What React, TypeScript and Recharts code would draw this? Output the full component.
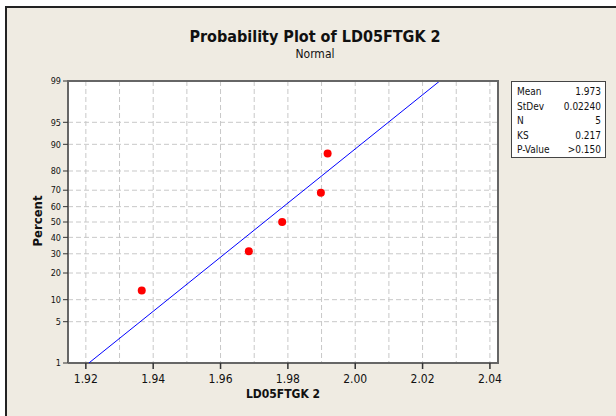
import { CartesianGrid, ComposedChart, Scatter, XAxis, YAxis } from 'recharts'

// observed values of LD05FTGK 2 and their median-rank percents
const VALUES = [1.9366, 1.9684, 1.9783, 1.9898, 1.9918]
const PERCENTS = [12.96, 31.48, 50, 68.52, 87.04]

// fitted normal line end points (mean 1.973, stdev 0.0224)
const FIT_VALUES = [1.9209, 2.0251]
const FIT_PERCENTS = [1, 99]

const Y_TICK_PERCENTS = [1, 5, 10, 20, 30, 40, 50, 60, 70, 80, 90, 95, 99]
const X_GRID = [1.92, 1.93, 1.94, 1.95, 1.96, 1.97, 1.98, 1.99, 2.0, 2.01, 2.02, 2.03, 2.04]
const X_LABELS = ['1.92', '1.94', '1.96', '1.98', '2.00', '2.02', '2.04']

const STATS = [
  ['Mean', '1.973'],
  ['StDev', '0.02240'],
  ['N', '5'],
  ['KS', '0.217'],
  ['P-Value', '>0.150'],
]

const FONT = '"DejaVu Sans Condensed", "DejaVu Sans", sans-serif'

// inverse standard normal cdf (Acklam), used as the probability-scale transform
function probit(p: number) {
  const a = [-39.6968302866538, 220.946098424521, -275.928510446969, 138.357751867269, -30.6647980661472, 2.50662827745924]
  const b = [-54.4760987982241, 161.585836858041, -155.698979859887, 66.8013118877197, -13.2806815528857]
  const c = [-0.00778489400243029, -0.322396458041136, -2.40075827716184, -2.54973253934373, 4.37466414146497, 2.93816398269878]
  const d = [0.00778469570904146, 0.32246712907004, 2.445134137143, 3.75440866190742]
  const pl = 0.02425
  if (p < pl) {
    const q = Math.sqrt(-2 * Math.log(p))
    return (((((c[0] * q + c[1]) * q + c[2]) * q + c[3]) * q + c[4]) * q + c[5]) / ((((d[0] * q + d[1]) * q + d[2]) * q + d[3]) * q + 1)
  }
  if (p > 1 - pl) {
    const q = Math.sqrt(-2 * Math.log(1 - p))
    return -(((((c[0] * q + c[1]) * q + c[2]) * q + c[3]) * q + c[4]) * q + c[5]) / ((((d[0] * q + d[1]) * q + d[2]) * q + d[3]) * q + 1)
  }
  const q = p - 0.5
  const r = q * q
  return ((((((a[0] * r + a[1]) * r + a[2]) * r + a[3]) * r + a[4]) * r + a[5]) * q) / (((((b[0] * r + b[1]) * r + b[2]) * r + b[3]) * r + b[4]) * r + 1)
}

const z = (pct: number) => probit(pct / 100)

const points = VALUES.map((v, i) => ({ x: v, z: z(PERCENTS[i]) }))
const fitLine = FIT_VALUES.map((v, i) => ({ x: v, z: z(FIT_PERCENTS[i]) }))
const yTicks = Y_TICK_PERCENTS.map(z)
const zMin = z(1)
const zMax = z(99)

function pctLabel(val: number) {
  let best = Y_TICK_PERCENTS[0]
  Y_TICK_PERCENTS.forEach((p) => {
    if (Math.abs(z(p) - val) < Math.abs(z(best) - val)) best = p
  })
  return String(best)
}

function XTick({ x, y, payload }: { x?: number; y?: number; payload?: { value: number } }) {
  const v = payload?.value ?? 0
  const label = X_LABELS.find((l) => Math.abs(Number(l) - v) < 0.0001)
  if (!label) return null
  const yy = y ?? 0
  return (
    <g>
      <line x1={x} x2={x} y1={yy - 8} y2={yy - 2} stroke="#333" strokeWidth={1.5} />
      <text x={x} y={yy + 12} textAnchor="middle" fill="#111" fontSize={12} fontFamily={FONT}>
        {label}
      </text>
    </g>
  )
}

function RedDot({ cx, cy }: { cx?: number; cy?: number }) {
  return <circle cx={cx} cy={cy} r={4} fill="#ff0000" />
}

export default function App() {
  return (
    <div style={{ position: 'absolute', left: 0, top: 0, width: 616, height: 416, background: '#ffffff', overflow: 'hidden' }}>
      <div
        style={{
          position: 'absolute',
          left: 5,
          top: 6,
          width: 620,
          height: 420,
          background: '#efebe2',
          borderTop: '2px solid #222',
          borderLeft: '2px solid #222',
        }}
      />
      <div style={{ position: 'absolute', left: 0, top: 0 }}>
        <ComposedChart width={616} height={416} margin={{ top: 81, right: 118, bottom: 23, left: 28 }}>
          <CartesianGrid stroke="#c8c8c8" strokeDasharray="5 3" fill="#ffffff" />
          <XAxis
            type="number"
            dataKey="x"
            domain={[1.9147, 2.0424]}
            ticks={X_GRID}
            allowDataOverflow
            height={30}
            axisLine={{ stroke: '#666', strokeWidth: 2 }}
            tickLine={false}
            tick={<XTick />}
            interval={0}
          />
          <YAxis
            type="number"
            dataKey="z"
            domain={[zMin, zMax]}
            ticks={yTicks}
            allowDataOverflow
            width={40}
            interval={0}
            tickFormatter={pctLabel}
            axisLine={{ stroke: '#666', strokeWidth: 2 }}
            tickLine={{ stroke: '#333' }}
            tickSize={5}
            tick={{ fill: '#111', fontSize: 9, fontFamily: FONT }}
          />
          <Scatter data={fitLine} line={{ stroke: '#0000ff', strokeWidth: 1 }} shape={() => null} isAnimationActive={false} />
          <Scatter data={points} shape={<RedDot />} isAnimationActive={false} />
        </ComposedChart>
      </div>
      {/* plot frame top/right edges */}
      <div style={{ position: 'absolute', left: 67, top: 80, width: 430, height: 282, borderTop: '2px solid #666', borderRight: '2px solid #666', pointerEvents: 'none' }} />
      <div style={{ position: 'absolute', left: 0, top: 27, width: 630, textAlign: 'center', fontFamily: FONT, fontWeight: 'bold', fontSize: 16, color: '#111' }}>
        Probability Plot of LD05FTGK 2
      </div>
      <div style={{ position: 'absolute', left: 0, top: 47, width: 630, textAlign: 'center', fontFamily: FONT, fontSize: 12, color: '#111' }}>
        Normal
      </div>
      <div style={{ position: 'absolute', left: 68, top: 387, width: 430, textAlign: 'center', fontFamily: FONT, fontWeight: 'bold', fontSize: 12, color: '#111' }}>
        LD05FTGK 2
      </div>
      <div
        style={{
          position: 'absolute',
          left: 37,
          top: 221,
          transform: 'translate(-50%, -50%) rotate(-90deg)',
          fontFamily: FONT,
          fontWeight: 'bold',
          fontSize: 13,
          color: '#111',
        }}
      >
        Percent
      </div>
      <div
        style={{
          position: 'absolute',
          left: 511,
          top: 81,
          width: 95,
          height: 77,
          background: '#ffffff',
          border: '1px solid #444',
          fontFamily: FONT,
          fontSize: 10,
          color: '#111',
          padding: '3px 4px 0 5px',
          boxSizing: 'border-box',
        }}
      >
        {STATS.map(([k, v]) => (
          <div key={k} style={{ display: 'flex', justifyContent: 'space-between', height: 14.6, lineHeight: '14.6px' }}>
            <span>{k}</span>
            <span>{v}</span>
          </div>
        ))}
      </div>
    </div>
  )
}
